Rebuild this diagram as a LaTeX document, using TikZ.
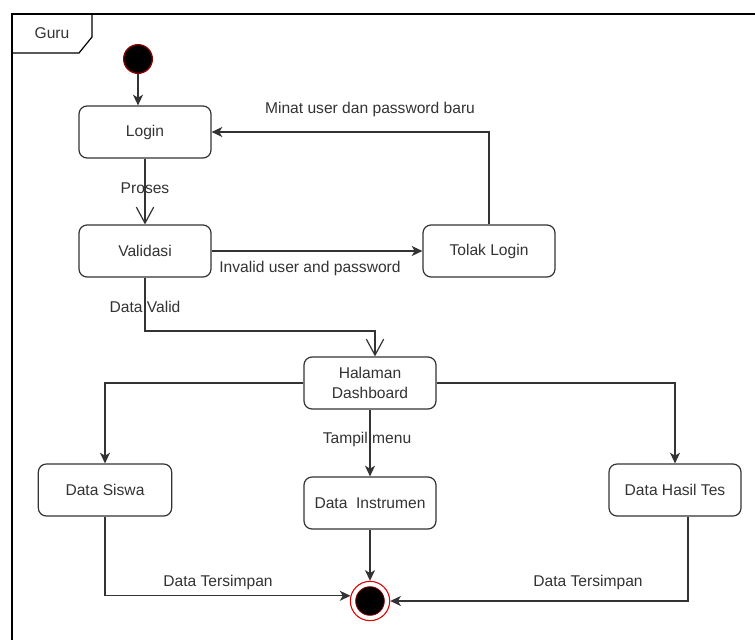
\documentclass[tikz,border=0pt]{standalone}
\usepackage{fontspec}
\setmainfont{Liberation Sans}
\usetikzlibrary{arrows.meta,calc}
\definecolor{ln}{HTML}{333333}
\definecolor{txt}{HTML}{333333}
\definecolor{dred}{HTML}{8B0000}
\definecolor{ringred}{HTML}{E00000}
\begin{document}
\begin{tikzpicture}[x=0.75pt,y=-0.75pt,
  every node/.style={font=\fontsize{11.7}{15}\selectfont, text=txt},
  act/.style={draw=ln, line width=0.9pt, rounded corners=6pt, fill=white,
    minimum width=99pt, minimum height=39pt, inner sep=0pt, align=center},
  conn/.style={draw=ln, line width=0.9pt, -{Stealth[length=8pt,width=7.5pt,inset=2.2pt]}},
  openconn/.style={draw=ln, line width=0.9pt, -{Straight Barb[length=12pt,width=13pt]}},
  lbl/.style={inner sep=1pt}
]
\clip (0,0) rectangle (755,639);
\fill[white] (0,0) rectangle (755,639);
% frame
\draw[line width=1.5pt, black] (12,700) -- (12,14) -- (800,14);
\draw[line width=0.9pt, black] (12,53) -- (79,53) -- (92,37) -- (92,14);
\node (frm) at (52,33) {Guru};
% nodes
\node[circle, fill=black, draw=dred, line width=1pt, minimum size=21.5pt, inner sep=0pt] (init) at (138,59) {};
\node[act] (login) at (145,132) {Login};
\node[act] (validasi) at (145,251) {Validasi};
\node[act] (tolak) at (489,251) {Tolak Login};
\node[act] (dash) at (370,383) {Halaman\\Dashboard};
\node[act, minimum width=100pt] (siswa) at (105,490) {Data Siswa};
\node[act] (instr) at (370,503) {Data\ \ Instrumen};
\node[act] (hasil) at (675,490) {Data Hasil Tes};
\node[circle, draw=ringred, line width=0.8pt, fill=white, minimum size=29.5pt, inner sep=0pt] (final) at (370,601) {};
\node[circle, fill=black, draw=dred, line width=0.6pt, minimum size=21.5pt, inner sep=0pt] (finalin) at (370,601) {};
% connectors
\draw[conn] (init) -- (init |- login.north);
\draw[openconn] (login) -- (validasi);
\node[lbl] (lproses) at (145,188) {Proses};
\draw[conn] (validasi.east) -- (tolak.west);
\node[lbl] (linvalid) at (310,268) {Invalid user and password};
\draw[conn] (tolak.north) |- (login.east);
\node[lbl] (lminat) at (370,109) {Minat user dan password baru};
\coordinate (dv) at (375,331);
\draw[openconn] (validasi.south) |- (dv) -- (dv |- dash.north);
\node[lbl] (lvalid) at (145,307) {Data Valid};
\draw[conn] (dash.west) -| (siswa.north);
\draw[conn] (dash.east) -| (hasil.north);
\draw[conn] (dash) -- (instr);
\node[lbl] (ltampil) at (367,439) {Tampil menu};
\draw[conn] (siswa.south) |- (final.165);
\node[lbl] (ls1) at (218,582) {Data Tersimpan};
\draw[conn] (instr) -- (final);
\draw[conn] ([xshift=9.75pt]hasil.south) |- (final.east);
\node[lbl] (ls2) at (588,582) {Data Tersimpan};
\end{tikzpicture}
\end{document}
